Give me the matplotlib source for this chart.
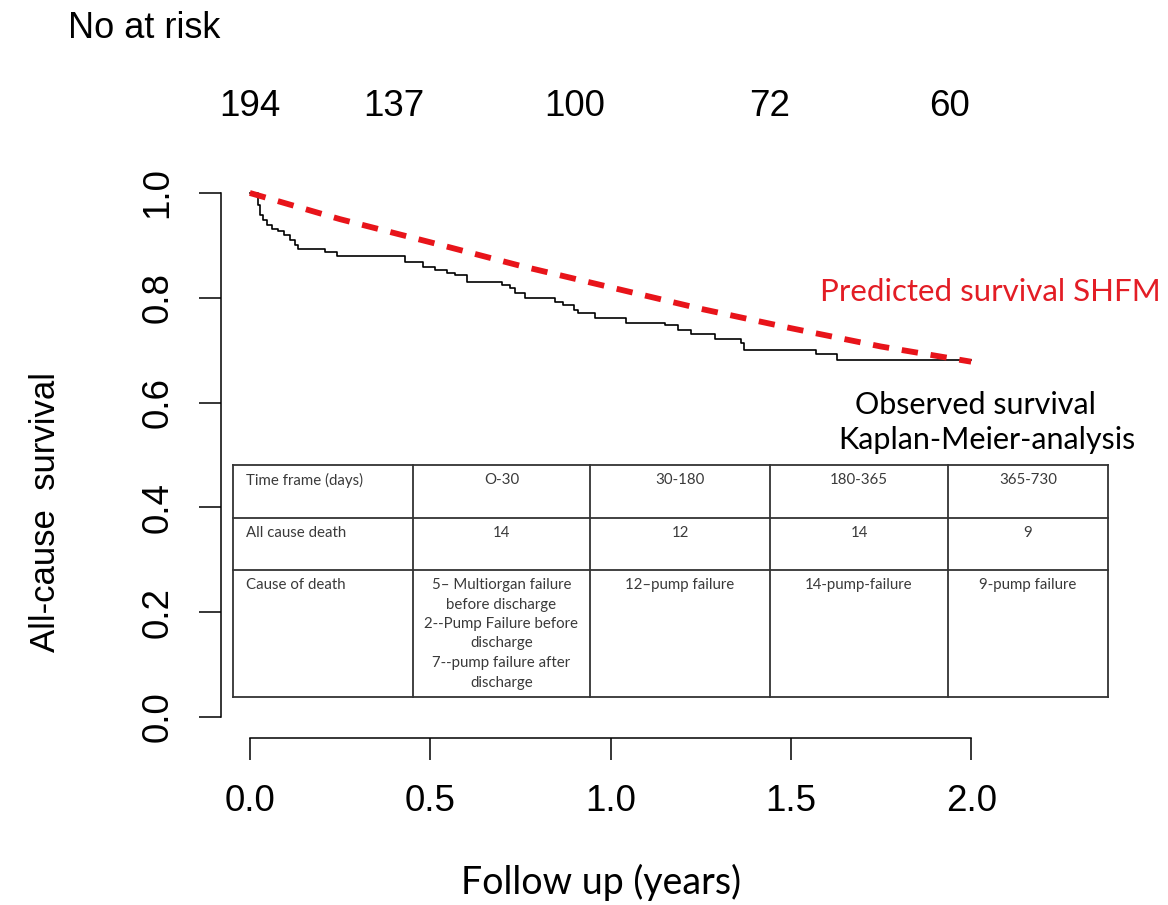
import matplotlib
matplotlib.use("Agg")
import matplotlib.pyplot as plt
import matplotlib.transforms as mtransforms

# ---- data ----
km_time = [0.0, 0.022, 0.028, 0.036, 0.047, 0.061, 0.078, 0.094, 0.111, 0.125, 0.133,
           0.208, 0.241, 0.43, 0.479, 0.512, 0.546, 0.568, 0.601, 0.698, 0.720,
           0.734, 0.762, 0.845, 0.867, 0.900, 0.909, 0.956, 1.044, 1.150, 1.186,
           1.224, 1.291, 1.363, 1.371, 1.571, 1.629, 2.0]
km_surv = [1.0, 0.977, 0.958, 0.948, 0.939, 0.931, 0.927, 0.920, 0.910, 0.901, 0.893,
           0.887, 0.880, 0.868, 0.859, 0.853, 0.847, 0.844, 0.830, 0.824, 0.819,
           0.809, 0.800, 0.792, 0.786, 0.777, 0.771, 0.761, 0.752, 0.748, 0.739,
           0.731, 0.721, 0.714, 0.700, 0.693, 0.681, 0.681]

pred_time = [0.0, 0.25, 0.5, 0.75, 1.0, 1.25, 1.5, 1.75, 2.0]
pred_surv = [1.0, 0.950, 0.906, 0.861, 0.820, 0.779, 0.742, 0.707, 0.678]

risk_counts = ["194", "137", "100", "72", "60"]
risk_pos = [0.0, 0.40, 0.90, 1.44, 1.94]

x_ticks = [0.0, 0.5, 1.0, 1.5, 2.0]
y_ticks = [0.0, 0.2, 0.4, 0.6, 0.8, 1.0]

table_header = ["Time frame (days)", "O-30", "30-180", "180-365", "365-730"]
table_deaths = ["All cause death", "14", "12", "14", "9"]
table_causes = ["Cause of death",
                "5\u2013 Multiorgan failure\nbefore discharge\n2--Pump Failure before\ndischarge\n7--pump failure after\ndischarge",
                "12\u2013pump failure", "14-pump-failure", "9-pump failure"]

# ---- figure ----
W, H = 1168, 905
fig = plt.figure(figsize=(W / 100, H / 100), dpi=100)
fig.patch.set_facecolor("white")

ax = fig.add_axes([221 / W, (H - 738) / H, 779 / W, 566 / H])
ax.set_xlim(-0.08, 2.08)
ax.set_ylim(-0.04, 1.04)

ax.step(km_time, km_surv, where="post", color="black", lw=1.2, zorder=3)
ax.plot(pred_time, pred_surv, color="#e8141a", lw=4.2, dashes=(2.8, 2.2),
        solid_capstyle="butt", zorder=4)

for s in ["top", "right"]:
    ax.spines[s].set_visible(False)
ax.spines["left"].set_bounds(0, 1)
ax.spines["bottom"].set_bounds(0, 2)
for s in ["left", "bottom"]:
    ax.spines[s].set_linewidth(1.1)

ax.set_xticks(x_ticks)
ax.set_xticklabels([f"{v:.1f}" for v in x_ticks])
ax.set_yticks(y_ticks)
ax.set_yticklabels([f"{v:.1f}" for v in y_ticks])
ax.tick_params(axis="both", length=16, width=1.1, pad=17, labelsize=26.5,
               direction="out")
for lab in ax.get_xticklabels() + ax.get_yticklabels():
    lab.set_family("Liberation Sans")
plt.setp(ax.get_yticklabels(), rotation=90, va="center")

# axis labels
fig.text(46 / W, 1 - 512 / H, "All-cause  survival", rotation=90, ha="center",
         va="center", fontsize=25, family="Liberation Sans")
fig.text(601 / W, 1 - 882 / H, "Follow up (years)", ha="center", va="center",
         fontsize=27, family="Lato")

# number at risk
fig.text(68 / W, 1 - 28 / H, "No at risk", ha="left", va="center",
         fontsize=26, family="Liberation Sans")
trans = mtransforms.blended_transform_factory(ax.transData, fig.transFigure)
for xp, n in zip(risk_pos, risk_counts):
    ax.text(xp, 1 - 107 / H, n, transform=trans, ha="center", va="center",
            fontsize=26.5, family="Liberation Sans", clip_on=False)

# annotations
fig.text(820 / W, 1 - 292 / H, "Predicted survival SHFM", color="#e31d25",
         ha="left", va="center", fontsize=22.5, family="Lato")
fig.text(855 / W, 1 - 405 / H, "Observed survival", color="black",
         ha="left", va="center", fontsize=22, family="Lato")
fig.text(838 / W, 1 - 440 / H, "Kaplan-Meier-analysis", color="black",
         ha="left", va="center", fontsize=22, family="Lato")

# ---- table ----
tx0, ty0, tw, th = 233, 465, 875, 232
axt = fig.add_axes([tx0 / W, (H - ty0 - th) / H, tw / W, th / H])
axt.set_xlim(0, tw)
axt.set_ylim(th, 0)
axt.axis("off")
col_edges = [0, 180, 357, 537, 715, 875]
row_edges = [0, 53, 105, 232]
lc = "#333333"
for xe in col_edges:
    axt.plot([xe, xe], [0, th], color=lc, lw=1.3, clip_on=False)
for ye in row_edges:
    axt.plot([0, tw], [ye, ye], color=lc, lw=1.3, clip_on=False)

rows = [table_header, table_deaths, table_causes]
tcol = "#3a3a3a"
for r, row in enumerate(rows):
    top = row_edges[r]
    for c, txt in enumerate(row):
        if c == 0:
            axt.text(13, top + 8, txt, ha="left", va="top", fontsize=10.8,
                     family="Lato", color=tcol)
        else:
            cx = (col_edges[c] + col_edges[c + 1]) / 2
            axt.text(cx, top + 8, txt, ha="center", va="top", fontsize=10.8,
                     family="Lato", color=tcol, linespacing=1.5,
                     multialignment="center")

fig.savefig("out.png", dpi=100, facecolor="white")
